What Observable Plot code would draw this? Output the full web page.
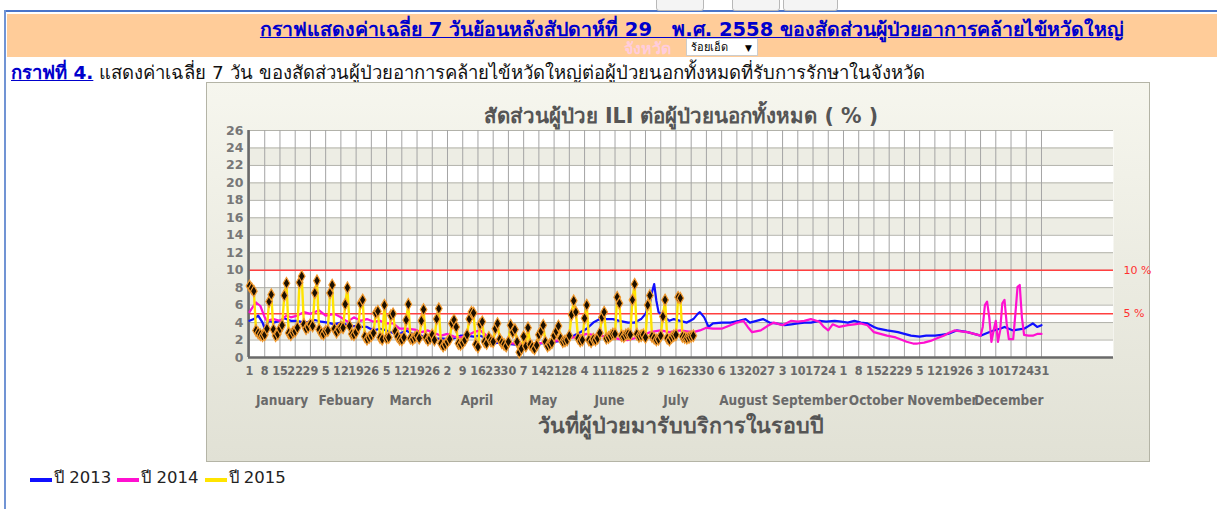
<!DOCTYPE html>
<html><head><meta charset="utf-8">
<script src="https://cdn.jsdelivr.net/npm/d3@7"></script>
<script src="https://cdn.jsdelivr.net/npm/@observablehq/plot@0.6"></script>
<style>
body{margin:0;width:1217px;height:509px;overflow:hidden;background:#fff;font-family:Tahoma,"DejaVu Sans",sans-serif;position:relative}
.abs{position:absolute}
#topline{left:4px;top:10px;width:1213px;height:2px;background:#4a74c9}
#leftline{left:4px;top:10px;width:2px;height:499px;background:#7194d4}
#header{left:7px;top:14px;width:1210px;height:43px;background:#ffcc99}
.btn{top:-4px;height:13px;border:1px solid #b8b8b8;border-radius:3px;background:#f4f4f4}
#title{left:0;top:14px;width:1384px;text-align:center;font-weight:bold;font-size:19.5px;color:#0000cc;text-decoration:underline;white-space:pre}
#prov{left:624px;top:36px;font-weight:bold;font-size:16px;color:#ffccdd}
#sel{left:686px;top:38px;width:72px;height:18px;background:#fff;border:1px solid #ccc;font-size:11px;line-height:18px;padding-left:4px;box-sizing:border-box}
#sel span{position:absolute;right:5px;top:0;font-size:9px}
#sub{left:11px;top:58px;font-size:18.5px;color:#111;white-space:nowrap}
#sub b{color:#0000cc;text-decoration:underline}
#panel{left:206px;top:82px;width:942px;height:378px;border:1px solid #b4b4a6;background:linear-gradient(#f6f6ee,#e1e1d5)}
#legend{left:30px;top:464px;font-size:16.5px;color:#222;white-space:nowrap}
#legend .it{display:inline-block;margin-right:6px}
#legend .sw{display:inline-block;width:22px;height:4px;vertical-align:1px;margin-right:2px}
</style></head>
<body>
<div class="abs" id="topline"></div>
<div class="abs" id="leftline"></div>
<div class="abs" id="header"></div>
<div class="abs btn" style="left:656px;width:46px"></div>
<div class="abs btn" style="left:732px;width:46px"></div>
<div class="abs btn" style="left:783px;width:53px"></div>
<div class="abs" id="title">กราฟแสดงค่าเฉลี่ย 7 วันย้อนหลังสัปดาห์ที่ 29   พ.ศ. 2558 ของสัดส่วนผู้ป่วยอาการคล้ายไข้หวัดใหญ่</div>
<div class="abs" id="prov">จังหวัด</div>
<div class="abs" id="sel">ร้อยเอ็ด<span>▼</span></div>
<div class="abs" id="sub"><b>กราฟที่ 4.</b> แสดงค่าเฉลี่ย 7 วัน ของสัดส่วนผู้ป่วยอาการคล้ายไข้หวัดใหญ่ต่อผู้ป่วยนอกทั้งหมดที่รับการรักษาในจังหวัด</div>
<div class="abs" id="panel"></div>
<div class="abs" id="legend"></div>
<script>
// ---- data ----
const chartTitle = "สัดส่วนผู้ป่วย ILI ต่อผู้ป่วยนอกทั้งหมด ( % )";
const xTitle = "วันที่ผู้ป่วยมารับบริการในรอบปี";
const seriesNames = ["ปี 2013", "ปี 2014", "ปี 2015"];
const seriesColors = ["#1010ff", "#ff10d0", "#ffe400"];

const weekTicks = [1,8,15,22,29,36,43,50,57,64,71,78,85,92,99,106,113,120,127,134,141,148,155,162,169,176,183,190,197,204,211,218,225,232,239,246,253,260,267,274,281,288,295,302,309,316,323,330,337,344,351,358,365];
const weekLabels = ["1","8","15","22","29","5","12","19","26","5","12","19","26","2","9","16","23","30","7","14","21","28","4","11","18","25","2","9","16","23","30","6","13","20","27","3","10","17","24","1","8","15","22","29","5","12","19","26","3","10","17","24","31"];
const monthNames = ["January","Febuary","March","April","May","June","July","August","September","October","November","December"];
const monthMid = [16,45.5,75,105.5,136,166.5,197,228,258.5,289,319.5,350];
const yTicks = [0,2,4,6,8,10,12,14,16,18,20,22,24,26];
const grayBands = [2,6,10,14,18,22];
const thresholds = [10,5];

const days2013 = [1,3,5,7,8,10,12,15,17,20,23,26,29,31,34,37,40,43,47,50,52,55,58,61,64,67,70,73,76,80,83,86,89,92,95,98,101,104,107,110,113,116,119,122,126,129,132,135,138,141,144,147,150,153,156,159,162,165,168,171,175,178,181,183,185,186,187,188,189,192,194,196,199,202,205,207,208,210,212,214,218,222,226,229,231,234,237,240,243,247,250,253,256,259,263,266,270,273,276,279,282,285,288,290,294,297,299,302,305,309,312,316,319,322,324,326,329,331,334,337,340,343,346,348,350,352,354,357,359,361,363,365];
const vals2013 = [4.2,4.4,4.8,4.0,3.3,4.2,4.0,4.2,4.5,4.2,4.2,4.0,4.1,4.3,4.1,4.0,3.8,4.0,3.6,3.6,3.5,3.5,3.1,3.3,3.1,2.8,2.7,3.1,2.7,2.5,2.1,2.1,2.2,2.1,2.2,2.5,2.5,2.4,2.5,2.2,1.6,1.7,1.6,1.5,1.4,1.5,1.5,1.6,1.7,1.8,1.9,2.2,2.5,2.9,3.3,4.0,4.4,4.4,4.4,4.2,4.0,4.0,4.4,5.0,6.1,7.5,8.4,6.5,5.2,4.6,4.2,4.4,4.2,4.0,4.4,5.0,5.2,4.6,3.5,3.9,4.0,4.0,4.2,4.4,4.0,4.2,4.4,4.0,3.9,3.7,3.8,3.9,4.0,4.0,4.2,4.1,4.2,4.1,4.0,4.2,4.0,3.9,3.5,3.3,3.1,3.0,2.9,2.7,2.5,2.4,2.5,2.5,2.6,2.7,2.9,3.1,3.0,2.9,2.7,2.5,2.8,3.1,3.3,3.5,3.3,3.1,3.2,3.3,3.6,3.9,3.5,3.7];

const days2014 = [1,2,4,6,8,9,12,15,18,20,23,26,29,31,33,36,40,43,46,49,52,55,58,61,64,67,70,73,77,80,83,86,89,92,95,98,101,104,107,110,113,116,119,123,126,130,134,138,141,144,147,150,153,156,159,162,165,168,171,175,178,181,185,190,194,199,202,205,208,211,214,218,222,225,228,230,232,236,239,242,246,250,253,256,259,263,265,267,269,272,276,279,282,285,288,291,294,298,301,303,306,308,311,314,317,320,323,325,328,331,334,337,338,339,340,341,342,343,344,345,346,347,348,349,350,352,353,354,355,356,357,359,361,363,365];
const vals2014 = [5.2,5.6,6.3,5.9,4.6,4.2,4.4,4.2,4.8,4.6,4.8,5.2,5.0,5.2,5.4,4.8,5.0,4.6,4.1,4.6,4.2,4.4,4.1,4.2,3.9,3.9,3.3,3.3,3.2,2.9,3.1,2.8,2.5,2.7,2.4,2.3,2.5,2.9,3.1,2.5,2.1,1.8,1.7,1.6,1.5,1.5,1.6,1.8,1.9,2.0,2.2,2.3,2.5,2.7,2.6,2.5,2.4,2.3,2.1,2.0,2.2,2.4,2.9,3.1,2.9,3.1,3.0,2.9,3.1,3.4,3.3,3.3,3.7,4.0,4.2,3.5,2.9,3.1,3.6,4.0,3.7,4.2,4.1,4.2,4.4,4.1,3.5,3.1,3.8,3.5,3.7,3.8,3.9,3.7,2.9,2.7,2.5,2.3,2.0,1.8,1.6,1.6,1.7,1.9,2.2,2.5,2.9,3.1,3.0,2.9,2.7,2.5,3.5,6.0,6.4,4.6,1.8,3.1,4.2,1.8,3.1,6.2,6.6,3.9,2.1,2.1,5.0,8.1,8.3,4.6,2.6,2.5,2.5,2.7,2.7];

// 2015: daily values from day 1 (Jan 1) to day 206
const vals2015 = [8.2,7.9,7.6,3.1,2.8,2.6,2.5, 2.6,3.3,6.4,7.2,3.2,2.5,2.7, 3.3,3.7,7.1,8.5,2.8,2.6,2.9, 3.0,3.4,8.6,9.3,3.8,3.3,3.5,
 3.8,3.6,7.4,8.8,3.2,2.8,2.7, 3.0,3.1,7.4,8.3,3.3,2.9,3.2, 3.5,3.4,6.1,8.0,3.6,2.7,2.6, 2.9,3.5,6.2,6.6,2.4,2.1,2.3,
 2.5,2.8,5.1,5.3,2.3,2.1,6.0, 2.2,2.3,4.8,5.0,3.0,2.4,2.1, 2.0,2.3,4.3,6.1,2.2,2.1,2.3, 2.5,2.2,4.2,5.5,2.3,2.0,2.2,
 2.6,2.0,4.4,5.6,1.6,1.3,1.5, 1.8,2.1,3.9,4.3,3.5,1.6,1.5, 1.7,2.0,2.6,4.4,5.2,5.1,1.5, 1.2,3.8,4.1,1.8,1.6,2.3,1.9,
 1.8,3.3,3.9,2.1,1.7,1.5,1.3, 1.8,3.7,2.9,3.2,1.8,0.6,1.0, 2.4,1.3,3.4,1.5,1.2,1.0,1.4, 2.6,3.0,3.7,1.8,1.3,1.5,1.7,
 2.5,3.0,3.6,2.2,1.8,1.9,2.0, 2.5,4.9,6.5,5.2,2.2,1.9,2.0, 4.5,6.0,2.0,1.8,2.1,2.0,2.2, 2.8,4.6,5.2,2.2,2.3,2.5,2.7,
 2.7,6.9,6.2,2.5,2.4,2.6,2.7, 2.6,6.6,8.4,2.7,2.4,2.5,2.6, 2.3,6.0,7.1,2.4,2.2,2.0,2.1, 2.5,4.7,6.6,2.2,2.0,2.3,2.5,
 2.6,6.9,6.8,2.4,2.3,2.2,2.3,2.4,2.5];

// ---- build tables ----
const s2013 = days2013.map((d,i)=>({day:d, v:vals2013[i]}));
const s2014 = days2014.map((d,i)=>({day:d, v:vals2014[i]}));
const s2015 = vals2015.map((v,i)=>({day:i+1, v}));
const xDomain = [0.54, 398.1];

const plot = Plot.plot({
  width: 942, height: 378,
  marginLeft: 41, marginRight: 36, marginTop: 47, marginBottom: 104,
  style: {background: "transparent", fontFamily: "'DejaVu Sans', sans-serif", overflow: "visible"},
  x: {domain: xDomain, axis: null},
  y: {domain: [0, 26], axis: null},
  marks: [
    Plot.frame({fill: "#ffffff", stroke: null}),
    Plot.rect(grayBands, {x1: xDomain[0], x2: xDomain[1], y1: d => d, y2: d => d + 2, fill: "#ededE4"}),
    Plot.ruleY(yTicks, {stroke: "#b2b2aa", strokeWidth: 1}),
    Plot.ruleX(weekTicks, {y1: 0, y2: 26, stroke: "#a4a4a4", strokeWidth: 1}),
    Plot.ruleY(thresholds, {stroke: "#ff4040", strokeWidth: 1.5}),
    Plot.ruleX([xDomain[0]], {stroke: "#6a6a6a", strokeWidth: 2.5}),
    Plot.ruleY([0], {stroke: "#6a6a6a", strokeWidth: 2.5}),
    Plot.text(thresholds, {x: xDomain[1], y: d => d, text: d => d + " %", dx: 10, textAnchor: "start", fill: "#ff3030", fontSize: 11}),
    Plot.line(s2013, {x: "day", y: "v", stroke: seriesColors[0], strokeWidth: 2.2}),
    Plot.line(s2014, {x: "day", y: "v", stroke: seriesColors[1], strokeWidth: 2.2}),
    Plot.line(s2015, {x: "day", y: "v", stroke: seriesColors[2], strokeWidth: 2.4}),
    Plot.dot(s2015, {x: "day", y: "v", symbol: "diamond", r: 3.5, fill: "#1c1000", stroke: "#f29a2e", strokeWidth: 1.2}),
    Plot.axisY({ticks: yTicks, tickSize: 0, tickPadding: 5, fontSize: 12.5, fontWeight: "bold", fill: "#777", label: null}),
    Plot.axisX({ticks: weekTicks, tickFormat: d => weekLabels[weekTicks.indexOf(d)], tickSize: 0, tickPadding: 9, fontSize: 12.5, fontWeight: "bold", fill: "#6a6a6a", fontFamily: "'Liberation Sans Narrow', 'DejaVu Sans Condensed', sans-serif", label: null}),
    Plot.axisX({ticks: monthMid, tickFormat: d => monthNames[monthMid.indexOf(d)], tickSize: 0, tickPadding: 38, fontSize: 13.5, fontWeight: "bold", fill: "#6a6a6a", fontFamily: "'Liberation Sans Narrow', 'DejaVu Sans Condensed', sans-serif", label: null}),
    Plot.text([chartTitle], {frameAnchor: "top", dy: -22, fontSize: 20.5, fontWeight: "bold", fill: "#555"}),
    Plot.text([xTitle], {frameAnchor: "bottom", dy: 75, fontSize: 21.5, fontWeight: "bold", fill: "#555"})
  ]
});
document.getElementById("panel").appendChild(plot);

const legend = document.getElementById("legend");
seriesNames.forEach((n, i) => {
  const it = document.createElement("span");
  it.className = "it";
  it.innerHTML = `<span class="sw" style="background:${seriesColors[i]}"></span>${n}`;
  legend.appendChild(it);
});
</script>
</body></html>
